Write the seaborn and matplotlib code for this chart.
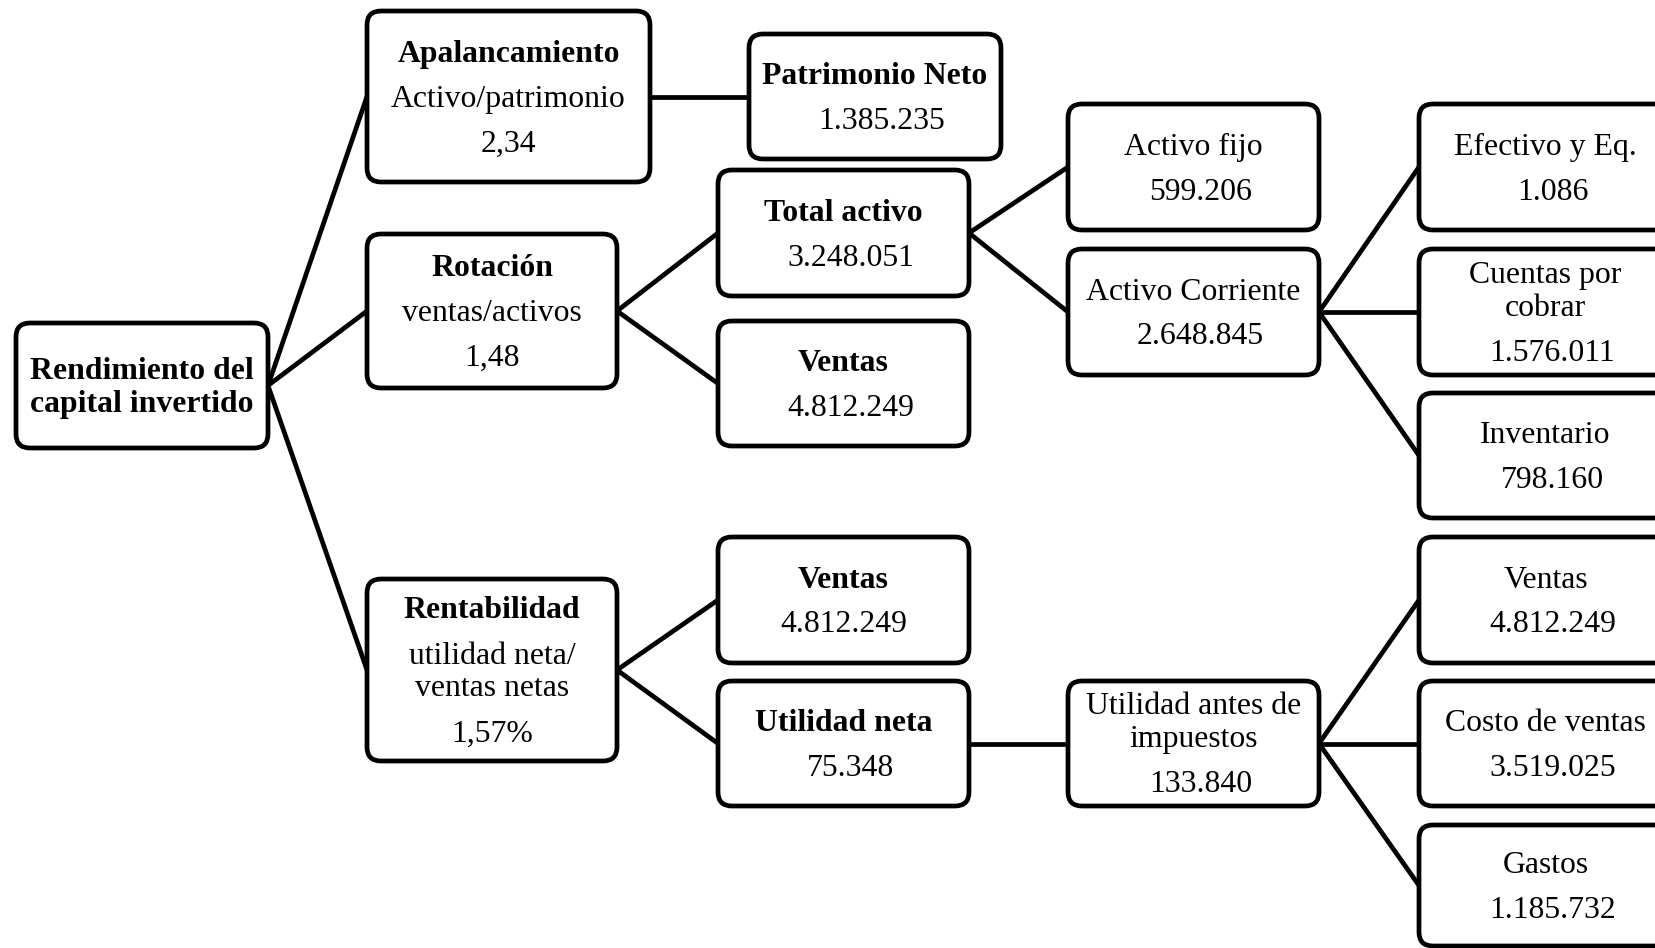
import matplotlib
matplotlib.use("Agg")
import matplotlib.pyplot as plt
from matplotlib.patches import FancyBboxPatch
import seaborn as sns
import pandas as pd

# ---------------- data ----------------
node_ids = ["root", "apal", "patr", "rot", "tot", "ven1", "afijo", "acorr",
            "efec", "cxc", "inv", "rent", "ven2", "uneta", "uai", "ven3",
            "costo", "gastos"]
titles = ["Rendimiento del\ncapital invertido", "Apalancamiento", "Patrimonio Neto",
          "Rotación", "Total activo", "Ventas", "Activo fijo", "Activo Corriente",
          "Efectivo y Eq.", "Cuentas por\ncobrar", "Inventario", "Rentabilidad",
          "Ventas", "Utilidad neta", "Utilidad antes de\nimpuestos", "Ventas",
          "Costo de ventas", "Gastos"]
formulas = ["", "Activo/patrimonio", "", "ventas/activos", "", "", "", "",
            "", "", "", "utilidad neta/\nventas netas", "", "", "", "", "", ""]
values = ["", "2,34", "1.385.235", "1,48", "3.248.051", "4.812.249", "599.206",
          "2.648.845", "1.086", "1.576.011", "798.160", "1,57%", "4.812.249",
          "75.348", "133.840", "4.812.249", "3.519.025", "1.185.732"]
parents = [None, "root", "apal", "root", "rot", "rot", "tot", "tot",
           "acorr", "acorr", "acorr", "root", "rent", "rent", "uneta",
           "uai", "uai", "uai"]

# ---------------- layout / style ----------------
bold_titles = {"root", "apal", "patr", "rot", "tot", "ven1", "rent", "ven2", "uneta"}
value_shift = {"patr", "tot", "ven1", "afijo", "acorr", "efec", "cxc", "inv",
               "uneta", "uai", "ven3", "costo", "gastos"}
boxes = {  # left, top, right, bottom in pixel space
    "root": (16, 323, 268, 448),
    "apal": (367, 11, 650, 182),
    "patr": (749, 34, 1001, 159),
    "rot": (367, 234, 617, 388),
    "tot": (718, 170, 969, 296),
    "ven1": (718, 321, 969, 446),
    "afijo": (1068, 104, 1319, 230),
    "acorr": (1068, 249, 1319, 375),
    "efec": (1419, 104, 1672, 230),
    "cxc": (1419, 249, 1672, 375),
    "inv": (1419, 393, 1672, 518),
    "rent": (367, 579, 617, 761),
    "ven2": (718, 537, 969, 663),
    "uneta": (718, 681, 969, 806),
    "uai": (1068, 681, 1319, 806),
    "ven3": (1419, 537, 1672, 663),
    "costo": (1419, 681, 1672, 806),
    "gastos": (1419, 825, 1672, 946),
}

W, H = 1655, 948
sns.set_theme(style="white")
plt.rcParams["font.family"] = ["Liberation Serif", "DejaVu Serif"]

fig = plt.figure(figsize=(W / 100, H / 100), dpi=100)
ax = fig.add_axes([0, 0, 1, 1])

# connectors
rows = []
for i, (nid, par) in enumerate(zip(node_ids, parents)):
    if par is None:
        continue
    pl, pt, pr, pb = boxes[par]
    cl, ct, cr, cb = boxes[nid]
    rows.append({"edge": i, "x": pr, "y": (pt + pb) / 2, "k": 0})
    rows.append({"edge": i, "x": cl, "y": (ct + cb) / 2, "k": 1})
edges = pd.DataFrame(rows)
sns.lineplot(data=edges, x="x", y="y", units="edge", estimator=None, sort=False,
             color="black", linewidth=3.4, ax=ax, zorder=1, legend=False)

fs = 22.9
gap_main = 45
gap_wrap = 33
for nid, t, f, v in zip(node_ids, titles, formulas, values):
    l, tp, r, b = boxes[nid]
    patch = FancyBboxPatch((l, tp), r - l, b - tp,
                           boxstyle="round,pad=0,rounding_size=14",
                           facecolor="white", edgecolor="black", linewidth=3.4,
                           zorder=2)
    ax.add_patch(patch)
    lines = []
    for part, weight, dx in ((t, "bold" if nid in bold_titles else "normal", 0),
                             (f, "normal", 0),
                             (v, "normal", 7 if nid in value_shift else 0)):
        if not part:
            continue
        for j, s in enumerate(part.split("\n")):
            gap = 0 if not lines else (gap_wrap if j > 0 else gap_main)
            lines.append((s, weight, dx, gap))
    total = sum(g for *_, g in lines)
    cy = (tp + b) / 2 - total / 2 + 2.5
    cx = (l + r) / 2
    y = cy
    for s, weight, dx, gap in lines:
        y += gap
        ax.text(cx + dx, y, s, ha="center", va="center", fontsize=fs,
                fontweight=weight, color="black", zorder=3)

ax.set_xlim(0, W)
ax.set_ylim(H, 0)
ax.axis("off")
fig.savefig("out.png", dpi=100, facecolor="white")
